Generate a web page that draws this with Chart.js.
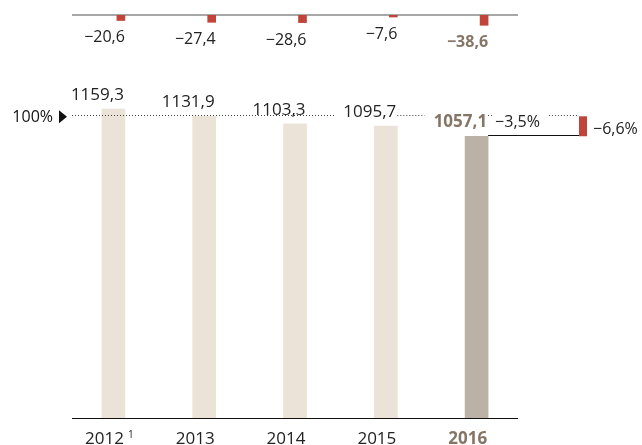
<!DOCTYPE html>
<html>
<head>
<meta charset="utf-8">
<script src="https://cdn.jsdelivr.net/npm/chart.js@4"></script>
<style>
  body { margin: 0; background: #fff; }
  #wrap { width: 642px; height: 445px; position: relative; }
</style>
</head>
<body>
<div id="wrap"><canvas id="myChart"></canvas></div>
<script>
const years = ["2012", "2013", "2014", "2015", "2016"];
const yearNotes = ["1", "", "", "", ""];
const values = [1159.3, 1131.9, 1103.3, 1095.7, 1057.1];
const deltas = [-20.6, -27.4, -28.6, -7.6, -38.6];
const refIndex = 1; // 100% = 2013
const pctLabels = ["−3,5%", "−6,6%"];
const refLabel = "100%";

const barColor = "#ebe3d8";
const lastBarColor = "#bcb1a6";
const red = "#c1443a";
const brown = "#857566";
const ink = "#222222";
const FONT = "'Open Sans', 'DejaVu Sans', sans-serif";

const fmt = (v) => (v < 0 ? "−" : "") + Math.abs(v).toFixed(1).replace(".", ",");

const labelsPlugin = {
  id: "labels",
  afterDatasetsUpdate(chart) {
    // hang the small change bars off the right edge of each main bar
    const main = chart.getDatasetMeta(0).data;
    const diff = chart.getDatasetMeta(1).data;
    diff.forEach((d, i) => {
      d.x = main[i].x + main[i].width / 2 - d.width / 2;
    });
  },
  beforeDatasetsDraw(chart) {
    const { ctx, chartArea, scales } = chart;
    const y0 = scales.yd.getPixelForValue(0);
    ctx.save();
    ctx.strokeStyle = "#8a8a8a";
    ctx.lineWidth = 1.5;
    ctx.beginPath();
    ctx.moveTo(chartArea.left + 4, y0);
    ctx.lineTo(chartArea.right - 4, y0);
    ctx.stroke();
    ctx.restore();
  },
  afterDatasetsDraw(chart) {
    const { ctx, chartArea, scales } = chart;
    const main = chart.getDatasetMeta(0).data;
    const diff = chart.getDatasetMeta(1).data;
    const last = values.length - 1;
    const yRef = scales.y.getPixelForValue(values[refIndex]);
    const yLast = scales.y.getPixelForValue(values[last]);
    const lastRight = main[last].x + main[last].width / 2;
    const sideLeft = chartArea.right + 57;
    const sideRight = chartArea.right + 65;

    ctx.save();

    // x axis line
    const yBase = scales.y.getPixelForValue(0);
    ctx.strokeStyle = "#111";
    ctx.lineWidth = 1;
    ctx.beginPath();
    ctx.moveTo(chartArea.left + 4, yBase + 0.5);
    ctx.lineTo(chartArea.right - 4, yBase + 0.5);
    ctx.stroke();

    // value label boxes (to break the dotted line)
    const gaps = [];
    const boxes = values.map((v, i) => {
      const el = main[i];
      const right = el.x + el.width / 2 - 1;
      const base = el.y - 9;
      ctx.font = (i === last ? "bold " : "") + "17px " + FONT;
      const w = ctx.measureText(fmt(v)).width;
      return { right, base, w };
    });
    boxes.forEach((b) => {
      if (b.base + 1 > yRef) gaps.push([b.right - b.w - 9, b.right + 1]);
    });
    ctx.font = "16px " + FONT;
    const pctX = lastRight + 7;
    const pctW = ctx.measureText(pctLabels[0]).width;
    gaps.push([pctX - 2, pctX + pctW + 9]);

    // dotted 100% line with gaps
    const x0 = chartArea.left + 4;
    const x1 = sideLeft;
    gaps.sort((a, b) => a[0] - b[0]);
    ctx.strokeStyle = "#444";
    ctx.lineWidth = 1;
    ctx.setLineDash([1, 2]);
    let cur = x0;
    const segs = [];
    gaps.forEach((g) => {
      if (g[0] > cur) segs.push([cur, g[0]]);
      cur = Math.max(cur, g[1]);
    });
    if (cur < x1) segs.push([cur, x1]);
    ctx.beginPath();
    segs.forEach((s) => {
      ctx.moveTo(s[0], Math.round(yRef) - 0.5);
      ctx.lineTo(s[1], Math.round(yRef) - 0.5);
    });
    ctx.stroke();
    ctx.setLineDash([]);

    // 100% marker
    ctx.fillStyle = "#111";
    ctx.font = "16px " + FONT;
    ctx.textAlign = "right";
    ctx.textBaseline = "middle";
    ctx.fillText(refLabel, chartArea.left - 15, yRef + 1);
    ctx.beginPath();
    ctx.moveTo(chartArea.left - 9, yRef - 6);
    ctx.lineTo(chartArea.left - 1, yRef + 0.5);
    ctx.lineTo(chartArea.left - 9, yRef + 7);
    ctx.closePath();
    ctx.fill();

    // value labels
    ctx.textBaseline = "alphabetic";
    values.forEach((v, i) => {
      const b = boxes[i];
      ctx.font = (i === last ? "bold " : "") + "17px " + FONT;
      ctx.fillStyle = i === last ? brown : ink;
      ctx.textAlign = "right";
      ctx.fillText(fmt(v), b.right, b.base);
    });

    // change labels under the small red bars
    deltas.forEach((v, i) => {
      const el = diff[i];
      const right = el.x + el.width / 2;
      ctx.font = (i === last ? "bold " : "") + "16px " + FONT;
      ctx.fillStyle = i === last ? brown : ink;
      ctx.textAlign = "right";
      ctx.fillText(fmt(v), right, el.y + 22);
    });

    // year labels
    years.forEach((yr, i) => {
      const el = main[i];
      const right = el.x + el.width / 2 - 1;
      ctx.font = (i === last ? "bold " : "") + "17px " + FONT;
      ctx.fillStyle = i === last ? brown : ink;
      ctx.textAlign = "right";
      ctx.fillText(yr, right, yBase + 26);
      if (yearNotes[i]) {
        ctx.font = "10px " + FONT;
        ctx.textAlign = "left";
        ctx.fillText(yearNotes[i], right + 4, yBase + 20);
      }
    });

    // right side: change vs previous year and vs 100%
    ctx.strokeStyle = "#111";
    ctx.lineWidth = 1;
    ctx.beginPath();
    ctx.moveTo(lastRight, Math.round(yLast) - 0.5);
    ctx.lineTo(sideRight, Math.round(yLast) - 0.5);
    ctx.stroke();
    ctx.fillStyle = red;
    ctx.fillRect(sideLeft, yRef, sideRight - sideLeft, yLast - yRef);

    ctx.fillStyle = ink;
    ctx.font = "16px " + FONT;
    ctx.textAlign = "left";
    ctx.fillText(pctLabels[0], pctX, boxes[last].base);
    ctx.textBaseline = "middle";
    ctx.fillText(pctLabels[1], sideRight + 6, (yRef + yLast) / 2 + 3);

    ctx.restore();
  }
};

const ctx = document.getElementById("myChart").getContext("2d");
new Chart(ctx, {
  type: "bar",
  data: {
    labels: years,
    datasets: [
      {
        label: "Werte",
        data: values,
        backgroundColor: values.map((v, i) => (i === values.length - 1 ? lastBarColor : barColor)),
        barThickness: 23,
        grouped: false,
        yAxisID: "y",
        borderWidth: 0
      },
      {
        label: "Veränderung",
        data: deltas,
        backgroundColor: red,
        barThickness: 8,
        grouped: false,
        yAxisID: "yd",
        borderWidth: 0
      }
    ]
  },
  options: {
    responsive: true,
    maintainAspectRatio: false,
    animation: false,
    events: [],
    layout: { padding: { left: 68, right: 120, top: 15, bottom: 27 } },
    plugins: { legend: { display: false }, tooltip: { enabled: false } },
    scales: {
      x: { display: false },
      y: { display: false, min: 0, max: 1512 },
      yd: { display: false, min: -1512, max: 0 }
    }
  },
  plugins: [labelsPlugin]
});
</script>
</body>
</html>
